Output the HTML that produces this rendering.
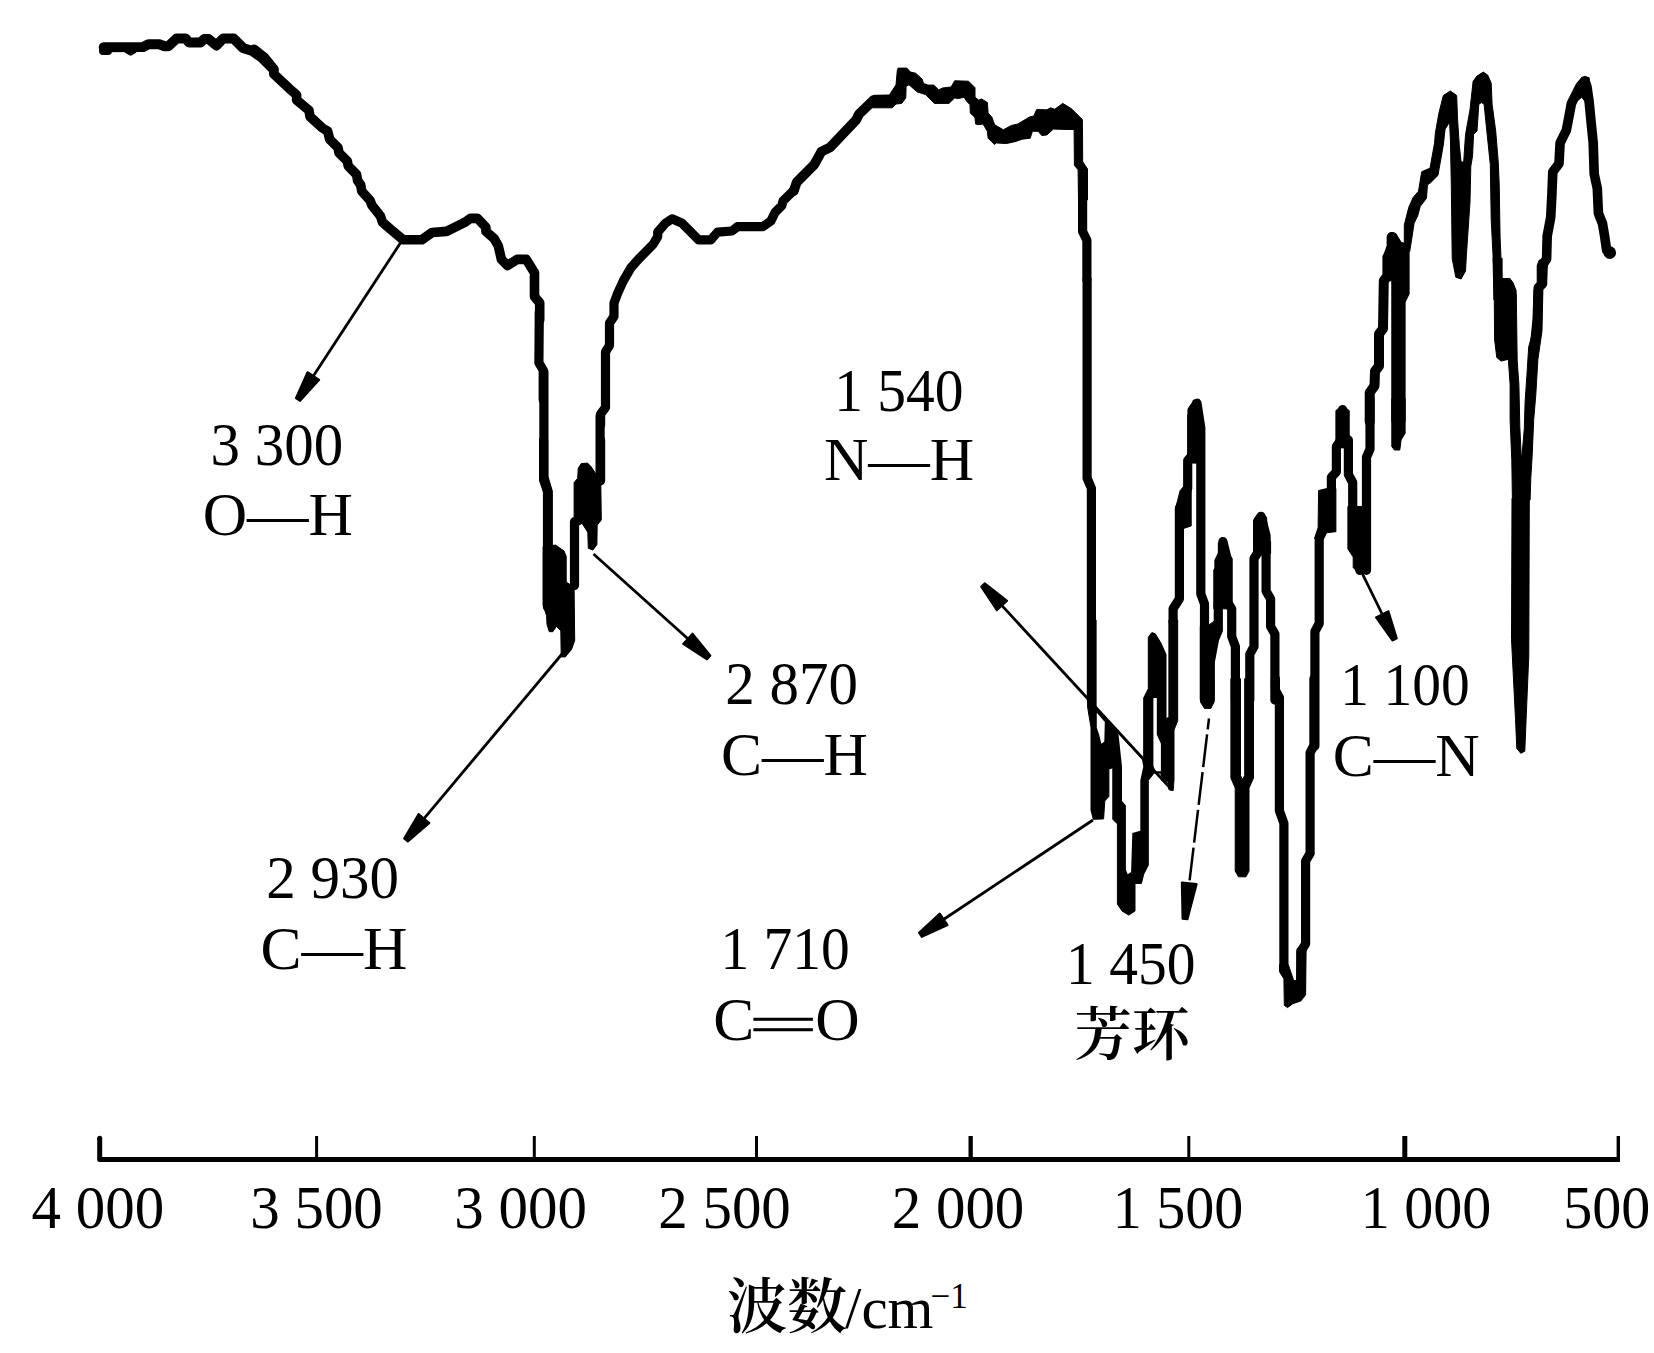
<!DOCTYPE html>
<html lang="zh"><head><meta charset="utf-8"><title>IR spectrum</title>
<style>html,body{margin:0;padding:0;background:#fff}svg{display:block}</style></head>
<body>
<svg width="1654" height="1353" viewBox="0 0 1654 1353">
<rect width="1654" height="1353" fill="#fff"/>
<g fill="none" stroke="#000" stroke-linejoin="round" stroke-linecap="round">
<polyline points="103.7,47.3 143.2,47.0 148.5,44.2 159.2,44.2 164.5,46.2 168.5,46.2 176.5,38.6 185.8,38.6 189.1,42.6 200.4,42.6 204.4,38.9 208.4,38.9 216.4,45.5 223.0,38.6 233.7,38.6 243.0,47.9 252.3,50.9 261.6,57.5 273.6,69.5" stroke-width="10.0"/>
<polyline points="103.0,50.9 108.0,50.9" stroke-width="8.0"/>
<polyline points="127.2,49.9 130.6,51.9 133.9,49.9" stroke-width="7.0"/>
<polyline points="254.1,49.3 264.5,57.6 273.8,69.0 273.8,74.1 289.3,88.6 296.6,94.8 296.6,100.0 309.0,110.4 310.0,116.6 322.4,128.0 327.6,131.1 329.7,139.3 338.0,147.6 339.0,152.8 347.3,161.1 348.3,166.2 356.6,174.5 357.6,180.7 360.7,184.9 361.7,191.1 370.0,200.4 372.1,205.6 380.4,215.9 382.4,222.1 390.7,229.4 403.1,239.7 421.8,239.7 432.1,232.5 446.6,231.4 456.9,226.2 465.2,222.1 470.4,218.4 477.6,218.4 485.9,227.3 485.9,231.4 494.2,238.7 498.3,245.9 501.4,259.4 507.6,265.6 517.0,259.4 526.3,259.4 534.5,272.8 534.5,296.6 539.7,302.8 539.7,320.0" stroke-width="9.6"/>
<polyline points="539.3,312.0 538.9,362.8 543.2,370.0 543.2,400.1" stroke-width="9.2"/>
<polyline points="543.9,371.8 543.9,477.1 548.3,491.9 548.3,547.3" stroke-width="9.2"/>
<polyline points="543.6,440.0 543.6,479.9 547.5,491.5 547.5,606.9" stroke-width="9.2"/>
<polyline points="574.5,521.7 574.5,585.6" stroke-width="9.2"/>
<polyline points="600.6,440.0 600.6,480.8" stroke-width="9.2"/>
<polyline points="600.1,473.4 600.1,416.1" stroke-width="9.2"/>
<polyline points="600.6,425.1 600.6,414.0 605.5,407.4 605.5,351.9 609.5,345.3 609.5,323.1 614.0,316.4 614.0,303.1 617.7,293.1 623.3,280.9 631.0,267.6 639.9,257.7 653.2,244.3 657.7,236.6 657.7,232.1 665.4,223.3 672.1,218.8 682.1,223.3 689.8,231.0 698.7,239.9 710.9,239.9 717.5,232.1 732.0,231.0 737.5,226.6 763.0,226.6 770.8,221.1 775.2,212.2 781.9,205.5 783.0,201.1 794.1,190.0" stroke-width="9.2"/>
<polyline points="793.8,190.9 796.7,182.2 814.1,164.8 821.4,151.7 830.1,147.4 856.2,119.8 859.1,114.0 873.6,100.1 886.7,100.1" stroke-width="9.8"/>
<polyline points="1082.6,185.1 1082.6,231.5 1086.9,240.2 1086.9,280.0" stroke-width="9.2"/>
<polyline points="1087.1,279.6 1087.1,478.1 1091.4,488.2 1091.4,700.1" stroke-width="9.2"/>
<polyline points="1173.1,621.4 1173.1,608.8 1179.4,598.8 1179.4,508.3 1183.2,500.8 1187.7,488.2 1187.7,460.5 1192.0,455.5 1192.0,410.3 1197.0,403.2 1200.8,427.9 1200.8,593.8 1204.5,603.8 1204.5,700.1" stroke-width="9.2"/>
<polyline points="1210.3,700.1 1210.3,661.6 1214.6,639.0 1218.3,630.2 1218.3,611.3 1218.9,571.1 1218.9,561.1 1222.9,553.5 1222.9,541.5 1227.1,558.6 1227.1,601.3 1231.7,608.8 1231.7,636.5 1235.4,646.5 1235.4,700.1" stroke-width="9.2"/>
<polyline points="1249.8,700.1 1249.8,654.1 1254.0,646.5 1254.0,558.6 1257.8,552.3 1257.8,520.9 1261.1,516.3 1266.1,535.9 1266.1,591.2 1270.6,598.8 1270.6,626.4 1274.9,634.0 1274.9,700.1" stroke-width="9.2"/>
<polyline points="1275.4,678.7 1275.4,690.1 1279.4,697.6 1279.4,810.7 1283.9,823.3 1283.9,965.3" stroke-width="9.2"/>
<polyline points="1313.9,678.7 1313.9,745.4 1310.1,752.9 1310.1,853.4 1305.6,861.0 1305.6,943.9 1300.8,951.5 1300.8,994.2" stroke-width="9.2"/>
<polyline points="1314.9,745.9 1314.9,631.5 1319.2,623.5 1319.2,538.3 1322.6,531.7" stroke-width="9.2"/>
<polyline points="1331.4,489.1 1331.4,477.2 1336.4,471.8 1336.4,446.6 1342.6,437.2 1342.6,409.6" stroke-width="9.2"/>
<polyline points="1348.4,439.9 1348.4,474.5 1352.7,482.5 1352.7,506.4 1357.2,549.0 1359.9,570.3" stroke-width="9.2"/>
<polyline points="1366.5,570.3 1366.5,457.2 1370.0,449.2 1370.0,398.7" stroke-width="9.2"/>
<polyline points="1369.7,421.8 1369.7,392.6 1374.5,385.9 1375.0,371.3 1379.0,365.9 1379.0,334.0 1383.0,328.7 1383.8,280.8 1387.8,275.5 1387.8,256.9 1391.8,246.2 1391.8,236.9" stroke-width="10.0"/>
<polyline points="1535.2,340.2 1537.3,318.9 1538.3,287.8 1542.5,283.7 1542.5,265.0 1546.6,258.8 1547.2,236.0 1550.7,217.4 1551.8,196.7 1552.8,171.8 1559.0,163.6 1560.1,142.8 1566.3,130.4 1568.3,120.1 1571.4,103.5 1575.6,95.2 1579.7,86.9 1584.9,80.7 1587.0,86.9 1589.1,101.4 1591.1,122.1 1593.2,142.8 1594.2,173.9 1597.3,188.4 1598.4,213.3 1602.5,223.6 1604.6,236.0 1606.7,250.5 1609.8,252.6" stroke-width="9.6"/>
</g>
<g fill="#000" stroke="#000" stroke-width="1" stroke-linejoin="round">
<polygon points="543.1,546.5 555.5,545.1 564.0,550.9 566.2,556.3 566.2,582.0 574.1,587.3 574.7,640.6 571.5,649.5 565.3,656.9 561.2,656.9 560.8,630.8 556.4,626.4 552.8,631.7 549.3,631.7 547.0,624.6 546.6,615.7 543.1,605.1"/>
<polygon points="574.1,517.2 574.1,482.6 577.7,478.2 578.2,468.4 581.2,463.6 587.5,463.1 591.0,466.6 594.6,472.0 600.8,482.6 601.3,519.9 597.2,525.2 596.9,544.7 592.8,550.1 588.3,548.3 587.8,532.3 582.1,523.4 578.6,525.2 574.1,525.2"/>
<polygon points="873.3,95.3 889.4,95.0 896.0,84.8 897.4,69.6 898.1,68.1 906.8,68.1 910.5,72.1 915.6,73.2 922.1,79.0 923.5,83.4 927.9,85.1 933.7,85.1 938.8,89.9 942.4,88.0 951.1,87.0 954.7,80.8 968.5,81.2 975.0,87.7 975.0,97.2 978.7,100.1 981.6,99.0 987.4,102.5 988.1,113.1 991.7,116.7 994.6,124.7 1003.3,129.8 1011.3,125.5 1017.8,124.0 1029.5,117.0 1033.8,116.0 1036.7,109.5 1046.9,109.8 1050.5,107.8 1054.8,109.2 1062.8,103.4 1071.5,108.8 1082.4,119.6 1082.7,161.7 1087.5,169.0 1087.5,200.0 1078.5,200.0 1078.1,169.7 1074.4,165.4 1074.1,129.5 1068.6,129.5 1053.4,129.1 1046.9,134.9 1041.8,135.6 1038.2,131.3 1032.4,131.3 1030.2,138.2 1022.2,139.2 1014.9,141.7 1006.2,143.6 996.1,142.9 994.6,144.6 988.1,138.2 987.4,131.3 983.0,124.0 978.7,124.7 975.5,124.0 975.0,117.5 970.3,113.1 970.0,104.8 966.3,100.8 964.2,97.2 958.4,98.6 954.7,97.9 948.9,103.4 934.4,103.4 925.7,94.7 917.0,91.8 909.0,84.8 906.1,86.3 905.8,97.9 901.8,103.4 896.0,104.0 892.3,107.8 872.5,107.8 869.1,104.4"/>
<polygon points="1087.6,620.0 1087.6,707.1 1091.0,727.7 1091.0,810.2 1093.3,819.3 1103.6,818.9 1104.8,801.0 1108.9,796.4 1108.9,768.9 1112.8,767.8 1112.8,819.3 1117.4,823.9 1117.4,904.1 1122.0,911.0 1128.8,915.1 1135.0,911.0 1135.0,883.5 1141.4,883.5 1143.7,874.3 1148.3,865.2 1148.3,780.4 1154.1,773.1 1160.9,773.1 1161.6,780.4 1167.8,781.5 1168.9,789.6 1173.1,790.7 1174.0,780.4 1174.0,730.0 1177.7,720.8 1177.7,620.0 1168.9,620.0 1168.9,717.4 1166.0,718.5 1166.0,654.4 1160.9,642.9 1155.2,633.7 1151.8,632.6 1148.3,637.2 1148.3,688.7 1143.7,697.9 1143.7,758.6 1096.1,707.1 1096.1,620.0"/>
<polygon points="1187.7,463.1 1187.7,415.3 1192.0,407.8 1193.2,400.2 1199.5,399.7 1201.3,422.8 1204.5,431.6 1204.5,463.1"/>
<polygon points="1175.6,527.9 1175.6,508.3 1180.1,490.7 1183.2,486.9 1191.2,486.9 1191.2,525.9 1183.7,528.4"/>
<polygon points="1213.8,569.9 1218.3,563.6 1218.3,543.5 1222.1,537.2 1225.9,541.0 1227.1,551.0 1232.2,558.6 1232.2,608.8 1213.8,608.8"/>
<polygon points="1200.3,626.4 1209.6,624.4 1213.8,621.4 1215.3,639.0 1210.8,661.6 1210.3,700.1 1200.3,700.1"/>
<polygon points="1200.8,678.7 1213.8,678.7 1213.8,702.6 1210.8,708.4 1204.5,708.4 1200.8,702.6"/>
<polygon points="1230.9,678.7 1230.9,778.0 1235.2,788.1 1235.2,871.0 1238.5,876.8 1246.0,876.8 1249.0,871.0 1249.0,788.1 1253.5,778.0 1253.5,678.7 1244.7,678.7 1244.7,775.5 1242.5,779.3 1240.5,775.5 1240.5,678.7"/>
<polygon points="1253.5,520.9 1257.3,515.8 1261.1,513.8 1266.6,517.1 1267.4,535.9 1270.6,542.2 1270.6,553.5 1261.1,553.5 1258.6,558.6 1253.5,553.5"/>
<polygon points="1279.5,964.6 1279.5,971.7 1283.9,978.8 1284.3,1005.4 1287.5,1007.6 1292.8,1003.7 1300.8,1001.0 1305.6,994.8 1306.1,950.4 1297.2,948.6 1296.7,980.6 1293.7,980.6 1288.3,964.6"/>
<polygon points="1314.6,538.3 1318.1,527.7 1318.6,490.5 1326.6,488.6 1335.9,488.6 1335.9,531.7 1323.9,533.0"/>
<polygon points="1335.9,439.9 1335.9,410.6 1339.9,407.4 1345.2,407.4 1349.2,410.6 1349.2,439.9 1343.9,447.9 1339.9,447.9"/>
<polygon points="1347.9,506.4 1366.5,506.4 1366.5,572.9 1359.9,574.3 1353.2,567.6 1353.2,557.0 1347.9,549.0"/>
<polygon points="1391.8,398.7 1391.8,446.6 1394.4,450.0 1399.8,450.0 1401.1,439.9 1405.1,433.3 1405.1,398.7"/>
<polygon points="1391.8,280.8 1405.1,280.8 1405.1,421.8 1391.8,421.8"/>
<polygon points="1383.0,280.8 1383.0,255.5 1387.3,251.5 1387.3,235.6 1391.8,232.4 1395.8,233.5 1401.1,242.2 1405.1,243.6 1409.1,246.2 1409.1,294.1 1405.1,302.1 1405.1,280.8"/>
<polygon points="1404.3,242.7 1404.3,224.9 1408.8,207.2 1413.2,197.4 1418.5,191.2 1421.7,171.7 1430.0,168.2 1434.5,143.3 1435.4,132.7 1438.9,113.2 1443.3,95.5 1450.4,91.0 1456.7,95.5 1457.5,118.5 1459.3,145.1 1461.1,162.0 1463.7,162.0 1465.5,134.5 1470.0,109.7 1473.1,81.3 1477.0,76.0 1483.3,72.1 1487.7,75.1 1491.2,83.1 1492.1,104.3 1495.7,130.9 1498.3,162.9 1499.2,184.1 1500.1,237.3 1501.9,279.0 1509.0,279.0 1512.5,281.7 1516.1,290.5 1516.1,299.9 1493.9,299.9 1493.0,255.1 1491.2,219.6 1490.3,164.6 1486.8,130.9 1484.1,104.3 1481.5,102.6 1478.8,104.3 1477.0,130.9 1473.5,134.5 1472.6,155.8 1470.8,166.4 1470.0,201.9 1466.4,255.1 1465.5,271.0 1461.1,279.0 1455.8,277.2 1452.2,258.6 1451.3,184.1 1450.4,139.8 1449.6,122.1 1445.1,129.2 1443.3,145.1 1438.9,170.0 1438.0,175.3 1430.9,182.4 1427.4,185.0 1426.5,198.3 1420.3,206.3 1417.6,216.1 1414.1,223.2 1411.4,240.9 1409.7,251.5"/>
<polygon points="1493.2,258.2 1502.1,258.2 1502.1,278.6 1510.1,278.6 1513.6,284.8 1516.3,295.5 1517.2,361.1 1508.3,359.3 1501.2,361.1 1496.8,357.6 1494.6,339.8 1494.1,277.7"/>
<polygon points="1508.3,359.3 1510.1,384.2 1510.1,419.6 1511.8,460.4 1512.4,500.0 1530.1,500.0 1530.8,478.2 1532.2,455.1 1533.7,419.6 1535.8,394.8 1537.9,359.3 1542.0,331.0 1542.9,288.4 1546.4,283.1 1547.3,265.3 1550.9,260.0 1539.3,260.0 1537.2,265.3 1537.2,283.1 1534.0,290.2 1533.1,331.0 1528.7,346.9 1526.9,375.3 1525.1,401.9 1524.3,428.5 1522.0,456.0 1521.2,455.1 1519.8,426.7 1518.9,384.2 1517.2,361.1"/>
<polygon points="1512.0,498.4 1511.5,639.4 1515.5,719.2 1516.8,748.5 1520.8,753.3 1524.8,751.2 1526.1,719.2 1528.8,655.4 1529.3,498.4"/>
<polygon points="1571.4,101.4 1575.6,86.9 1581.8,77.6 1589.1,77.6 1590.1,95.2 1593.2,103.5 1584.9,101.4 1581.8,97.3 1577.7,100.4"/>
</g>
<g fill="#fff">
<polygon points="1096.8,712.8 1104.8,722.0 1104.3,741.4 1101.4,743.7 1099.1,734.6 1096.8,727.7"/>
<polygon points="1153.4,697.9 1156.8,697.9 1156.8,734.6 1160.9,743.7 1160.9,771.2 1155.2,771.2 1153.4,765.5"/>
<polygon points="1118.5,733.9 1122.0,766.6 1122.0,801.0 1125.9,805.6 1125.9,869.8 1127.7,874.3 1131.1,872.0 1132.3,833.1 1140.3,830.8 1140.3,780.4 1143.3,766.6 1141.9,759.3"/>
</g>
<circle cx="1609.8" cy="252.6" r="6.3" fill="#000"/>
<line x1="403.0" y1="239.0" x2="311.7" y2="378.6" stroke="#000" stroke-width="2.8"/>
<polygon points="307.5,372.2 295.9,398.1 300.1,400.9 319.2,379.9" fill="#000" stroke="#000" stroke-width="2" stroke-linejoin="round"/>
<line x1="562.0" y1="654.0" x2="422.1" y2="820.8" stroke="#000" stroke-width="2.8"/>
<polygon points="418.6,814.0 404.1,838.4 407.9,841.6 429.4,823.0" fill="#000" stroke="#000" stroke-width="2" stroke-linejoin="round"/>
<line x1="593.5" y1="554.0" x2="690.1" y2="640.8" stroke="#000" stroke-width="2.8"/>
<polygon points="683.2,644.0 707.0,659.4 710.4,655.6 692.5,633.6" fill="#000" stroke="#000" stroke-width="2" stroke-linejoin="round"/>
<line x1="1093.0" y1="820.0" x2="941.2" y2="921.0" stroke="#000" stroke-width="2.8"/>
<polygon points="939.8,913.5 919.0,932.7 921.8,936.9 947.6,925.1" fill="#000" stroke="#000" stroke-width="2" stroke-linejoin="round"/>
<line x1="1172.0" y1="790.0" x2="999.9" y2="603.4" stroke="#000" stroke-width="2.8"/>
<polygon points="1007.1,600.8 984.8,583.3 981.2,586.7 996.8,610.3" fill="#000" stroke="#000" stroke-width="2" stroke-linejoin="round"/>
<line x1="1362.5" y1="574.0" x2="1383.6" y2="617.0" stroke="#000" stroke-width="2.8"/>
<polygon points="1376.0,617.3 1392.4,640.5 1396.8,638.3 1388.5,611.2" fill="#000" stroke="#000" stroke-width="2" stroke-linejoin="round"/>
<line x1="1209.0" y1="718.5" x2="1188.9" y2="886.2" stroke="#000" stroke-width="2.5" stroke-dasharray="33 5" stroke-dashoffset="22"/>
<polygon points="1181.8,882.4 1182.5,918.7 1187.5,919.3 1196.7,884.1" fill="#000" stroke="#000" stroke-width="2" stroke-linejoin="round"/>
<path d="M99.7,1138.3 L99.7,1159.5 L1620,1159.5" fill="none" stroke="#000" stroke-width="5" stroke-linejoin="round" stroke-linecap="butt"/>
<circle cx="99.7" cy="1138.3" r="2.5" fill="#000"/>
<rect x="315.1" y="1136" width="3.0" height="23" fill="#000"/>
<rect x="532.8" y="1136" width="3.0" height="23" fill="#000"/>
<rect x="755.0" y="1136" width="3.0" height="23" fill="#000"/>
<rect x="968.5" y="1136" width="4.3" height="23" fill="#000"/>
<rect x="1187.3" y="1136" width="3.0" height="23" fill="#000"/>
<rect x="1402.3" y="1136" width="5.0" height="23" fill="#000"/>
<rect x="1616.6" y="1136" width="3.4" height="23" fill="#000"/>
<g font-family="'Liberation Serif','Noto Serif CJK SC',serif" fill="#000">
<text transform="translate(97.8,1228.0) scale(1.000,1.035)" font-size="59" text-anchor="middle">4 000</text>
<text transform="translate(316.5,1228.0) scale(1.000,1.035)" font-size="59" text-anchor="middle">3 500</text>
<text transform="translate(520.6,1228.0) scale(1.000,1.035)" font-size="59" text-anchor="middle">3 000</text>
<text transform="translate(724.5,1228.0) scale(1.000,1.035)" font-size="59" text-anchor="middle">2 500</text>
<text transform="translate(958.0,1228.0) scale(1.000,1.035)" font-size="59" text-anchor="middle">2 000</text>
<text transform="translate(1178.0,1228.0) scale(0.985,1.035)" font-size="59" text-anchor="middle">1 500</text>
<text transform="translate(1426.0,1228.0) scale(0.985,1.035)" font-size="59" text-anchor="middle">1 000</text>
<text transform="translate(1606.8,1228.0) scale(0.985,1.035)" font-size="59" text-anchor="middle">500</text>
<text transform="translate(276.9,465.0) scale(1.000,1.035)" font-size="59" text-anchor="middle">3 300</text>
<text transform="translate(898.9,410.7) scale(0.975,1.035)" font-size="59" text-anchor="middle">1 540</text>
<text transform="translate(791.7,704.0) scale(1.000,1.035)" font-size="59" text-anchor="middle">2 870</text>
<text transform="translate(332.6,898.0) scale(1.000,1.035)" font-size="59" text-anchor="middle">2 930</text>
<text transform="translate(785.1,969.4) scale(0.975,1.035)" font-size="59" text-anchor="middle">1 710</text>
<text transform="translate(1130.8,983.6) scale(0.975,1.035)" font-size="59" text-anchor="middle">1 450</text>
<text transform="translate(1405.0,705.3) scale(0.975,1.035)" font-size="59" text-anchor="middle">1 100</text>
<text transform="translate(277.8,535.3) scale(1.000,1.000)" font-size="61.5" text-anchor="middle">O—H</text>
<text transform="translate(899.1,480.0) scale(1.000,1.000)" font-size="61.5" text-anchor="middle">N—H</text>
<text transform="translate(794.4,775.2) scale(1.000,1.000)" font-size="61.5" text-anchor="middle">C—H</text>
<text transform="translate(333.9,968.8) scale(1.000,1.000)" font-size="61.5" text-anchor="middle">C—H</text>
<text transform="translate(1406.2,775.8) scale(1.000,1.000)" font-size="61.5" text-anchor="middle">C—N</text>
<text y="1039.8" font-size="61.5"><tspan x="713.3">C</tspan><tspan x="815.2">O</tspan></text>
<text transform="translate(747.6,1042.2) scale(2.43,1)" font-size="52" stroke="#000" stroke-width="0.3">=</text>
<text x="1074" y="1054.5" font-size="58" font-weight="600" font-family="'Noto Serif CJK SC','Liberation Serif',serif">芳环</text>
<text y="1327.5" font-size="59"><tspan x="727" font-family="'Noto Serif CJK SC','Liberation Serif',serif" font-size="60" font-weight="600">波数</tspan><tspan x="845">/cm</tspan><tspan x="930.5" y="1307.7" font-size="35">−1</tspan></text>
</g>
</svg>
</body></html>
